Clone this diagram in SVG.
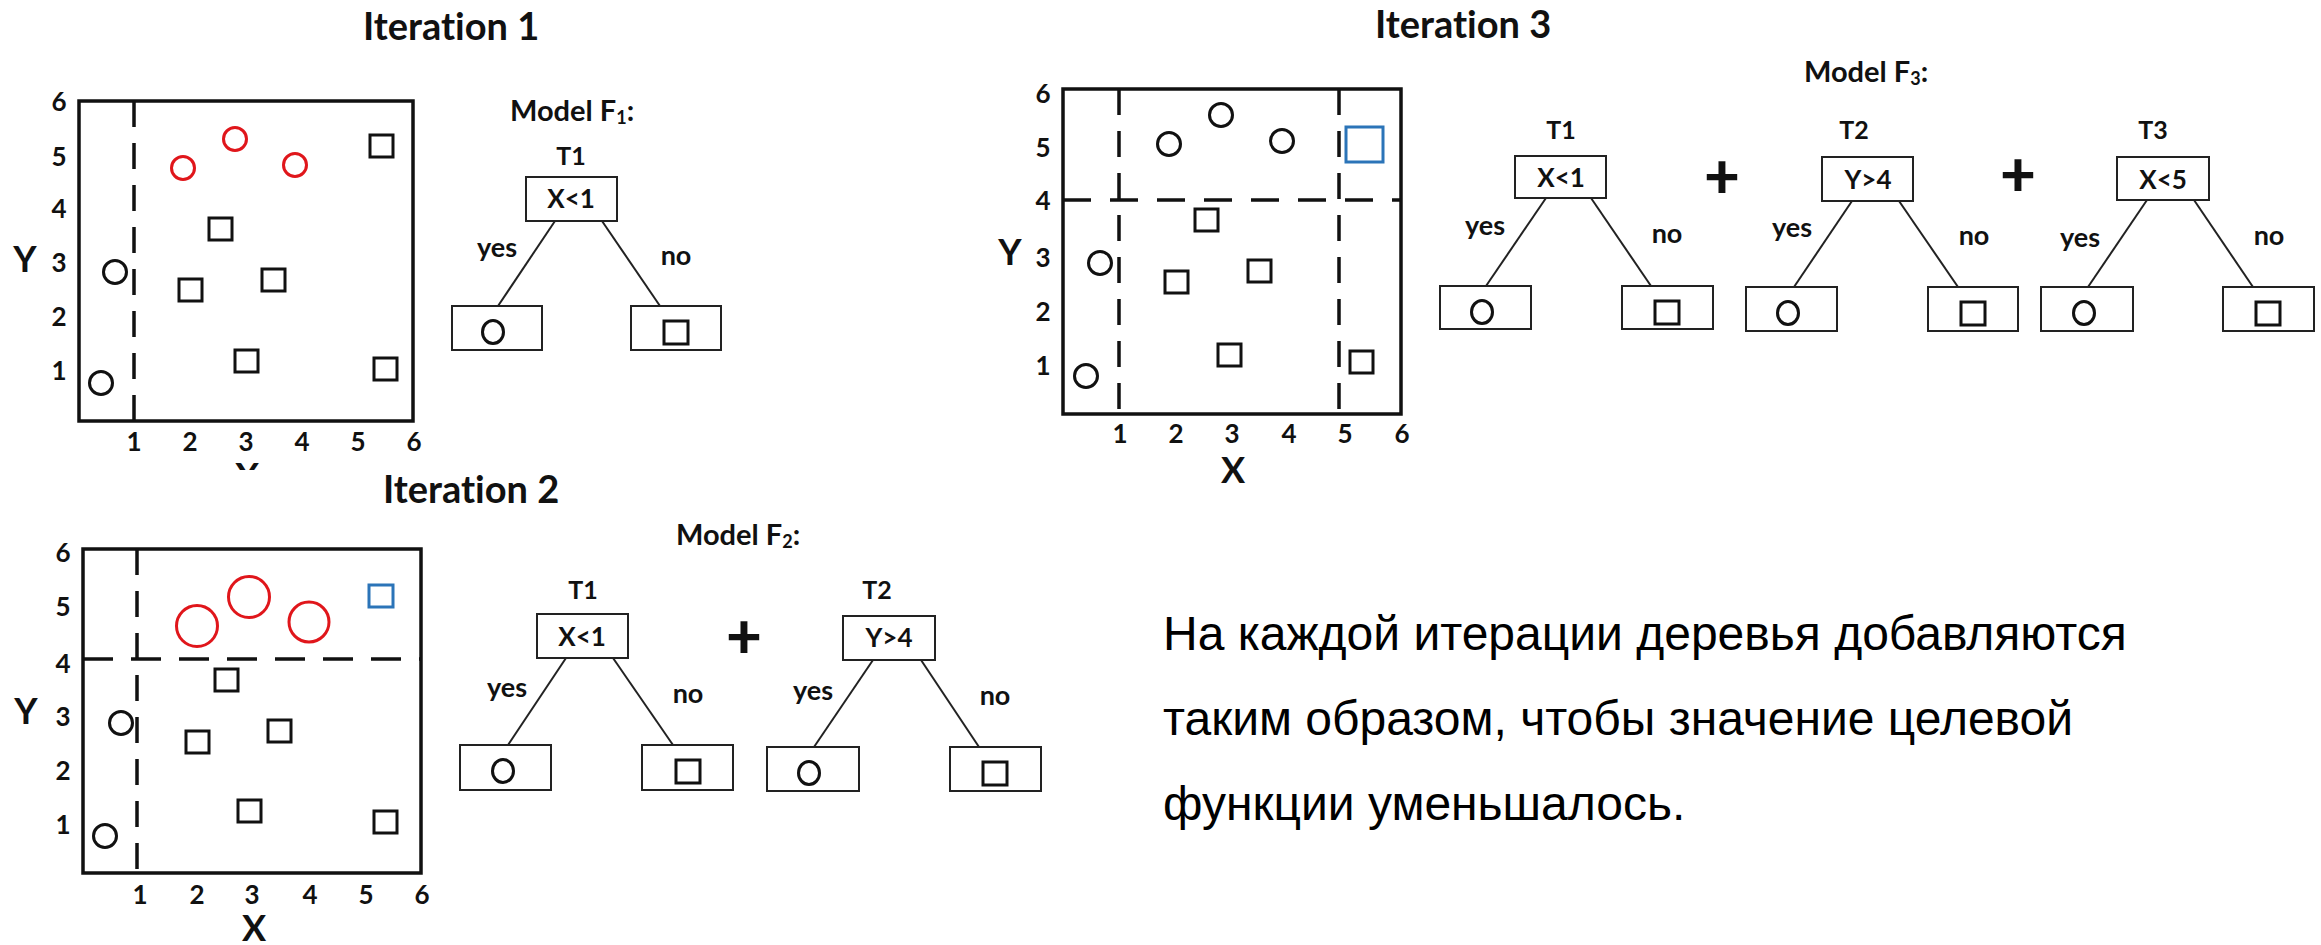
<svg xmlns="http://www.w3.org/2000/svg" width="2321" height="945" viewBox="0 0 2321 945">
  <style>
    text { font-variant-ligatures: none; }
    .title { font-family: Lato, "Liberation Sans", sans-serif; font-weight: bold; font-size: 38px; fill: #111; }
    .tick { font-family: Lato, "Liberation Sans", sans-serif; font-weight: bold; font-size: 26px; fill: #111; text-anchor: middle; }
    .axis { font-family: Lato, "Liberation Sans", sans-serif; font-weight: bold; font-size: 36px; fill: #111; text-anchor: middle; }
    .model { font-family: Lato, "Liberation Sans", sans-serif; font-weight: bold; font-size: 29px; fill: #111; }
    .tname { font-family: Lato, "Liberation Sans", sans-serif; font-weight: bold; font-size: 25px; fill: #111; text-anchor: middle; }
    .cond { font-family: Lato, "Liberation Sans", sans-serif; font-weight: bold; font-size: 26px; fill: #111; text-anchor: middle; }
    .branch { font-family: Lato, "Liberation Sans", sans-serif; font-weight: bold; font-size: 27px; fill: #111; text-anchor: middle; }
    .plus { font-family: Lato, "Liberation Sans", sans-serif; font-weight: 900; font-size: 62px; fill: #111; text-anchor: middle; }
    .note { font-family: "Liberation Sans", Arial, sans-serif; font-size: 48px; fill: #000; }
    .frame { fill: none; stroke: #111; stroke-width: 3.5; }
    .split { fill: none; stroke: #111; stroke-width: 3.5; stroke-dasharray: 26 16; }
    .pt { fill: none; stroke: #111; stroke-width: 3; }
    .red { fill: none; stroke: #e0161b; stroke-width: 3; }
    .blue { fill: none; stroke: #2b74b8; stroke-width: 3; }
    .box { fill: #fff; stroke: #222; stroke-width: 2; }
    .edge { stroke: #222; stroke-width: 2; fill: none; }
    .leaf { fill: none; stroke: #111; stroke-width: 3; }
  </style>
  <defs>
    <clipPath id="cutX"><rect x="200" y="440" width="100" height="30"/></clipPath>
  </defs>
  <rect width="2321" height="945" fill="#fff"/>

  <!-- Iteration 1: scatter plot -->
  <g id="plot1">
    <text class="title" x="363" y="40">Iteration 1</text>
    <rect class="frame" x="79" y="101" width="334" height="320"/>
    <line class="split" x1="134" y1="101" x2="134" y2="421"/>
    <g>
      <text class="tick" x="59" y="111">6</text>
      <text class="tick" x="59" y="166">5</text>
      <text class="tick" x="59" y="218">4</text>
      <text class="tick" x="59" y="272">3</text>
      <text class="tick" x="59" y="326">2</text>
      <text class="tick" x="59" y="380">1</text>
      <text class="tick" x="134" y="451">1</text>
      <text class="tick" x="190" y="451">2</text>
      <text class="tick" x="246" y="451">3</text>
      <text class="tick" x="302" y="451">4</text>
      <text class="tick" x="358" y="451">5</text>
      <text class="tick" x="414" y="451">6</text>
      <text class="axis" x="25" y="272">Y</text>
      <text class="axis" x="247" y="489" clip-path="url(#cutX)">X</text>
    </g>
    <circle class="red" cx="183" cy="168" r="11.5"/>
    <circle class="red" cx="235" cy="139" r="11.5"/>
    <circle class="red" cx="295" cy="165" r="11.5"/>
    <circle class="pt" cx="115" cy="272" r="11.5"/>
    <circle class="pt" cx="101" cy="383" r="11.5"/>
    <rect class="pt" x="370" y="135" width="23" height="22"/>
    <rect class="pt" x="209" y="218" width="23" height="22"/>
    <rect class="pt" x="179" y="279" width="23" height="22"/>
    <rect class="pt" x="262" y="269" width="23" height="22"/>
    <rect class="pt" x="235" y="350" width="23" height="22"/>
    <rect class="pt" x="374" y="358" width="23" height="22"/>
  </g>

  <!-- Iteration 2: scatter plot -->
  <g id="plot2">
    <text class="title" x="383" y="503">Iteration 2</text>
    <rect class="frame" x="83" y="549" width="338" height="324"/>
    <line class="split" x1="137" y1="549" x2="137" y2="873"/>
    <line class="split" x1="83" y1="659" x2="421" y2="659" style="stroke-dasharray: 30 18"/>
    <g>
      <text class="tick" x="63" y="562">6</text>
      <text class="tick" x="63" y="616">5</text>
      <text class="tick" x="63" y="673">4</text>
      <text class="tick" x="63" y="726">3</text>
      <text class="tick" x="63" y="780">2</text>
      <text class="tick" x="63" y="834">1</text>
      <text class="tick" x="140" y="904">1</text>
      <text class="tick" x="197" y="904">2</text>
      <text class="tick" x="252" y="904">3</text>
      <text class="tick" x="310" y="904">4</text>
      <text class="tick" x="366" y="904">5</text>
      <text class="tick" x="422" y="904">6</text>
      <text class="axis" x="26" y="724">Y</text>
      <text class="axis" x="254" y="941">X</text>
    </g>
    <circle class="red" cx="197" cy="626" r="20.5"/>
    <circle class="red" cx="249" cy="597" r="20.5"/>
    <circle class="red" cx="309" cy="622" r="20"/>
    <rect class="blue" x="369" y="585" width="24" height="22"/>
    <circle class="pt" cx="121" cy="723" r="11.5"/>
    <circle class="pt" cx="105" cy="836" r="11.5"/>
    <rect class="pt" x="215" y="669" width="23" height="22"/>
    <rect class="pt" x="186" y="731" width="23" height="22"/>
    <rect class="pt" x="268" y="720" width="23" height="22"/>
    <rect class="pt" x="238" y="800" width="23" height="22"/>
    <rect class="pt" x="374" y="811" width="23" height="22"/>
  </g>

  <!-- Iteration 3: scatter plot -->
  <g id="plot3">
    <text class="title" x="1375" y="38">Iteration 3</text>
    <rect class="frame" x="1063" y="89" width="338" height="325"/>
    <line class="split" x1="1119" y1="89" x2="1119" y2="414"/>
    <line class="split" x1="1339" y1="89" x2="1339" y2="414"/>
    <line class="split" x1="1063" y1="200" x2="1401" y2="200" style="stroke-dasharray: 28 19"/>
    <g>
      <text class="tick" x="1043" y="103">6</text>
      <text class="tick" x="1043" y="157">5</text>
      <text class="tick" x="1043" y="210">4</text>
      <text class="tick" x="1043" y="267">3</text>
      <text class="tick" x="1043" y="321">2</text>
      <text class="tick" x="1043" y="375">1</text>
      <text class="tick" x="1120" y="443">1</text>
      <text class="tick" x="1176" y="443">2</text>
      <text class="tick" x="1232" y="443">3</text>
      <text class="tick" x="1289" y="443">4</text>
      <text class="tick" x="1345" y="443">5</text>
      <text class="tick" x="1402" y="443">6</text>
      <text class="axis" x="1010" y="265">Y</text>
      <text class="axis" x="1233" y="483">X</text>
    </g>
    <circle class="pt" cx="1169" cy="144" r="11.5"/>
    <circle class="pt" cx="1221" cy="115" r="11.5"/>
    <circle class="pt" cx="1282" cy="141" r="11.5"/>
    <circle class="pt" cx="1100" cy="263" r="11.5"/>
    <circle class="pt" cx="1086" cy="376" r="11.5"/>
    <rect class="blue" x="1346" y="127" width="37" height="35"/>
    <rect class="pt" x="1195" y="209" width="23" height="22"/>
    <rect class="pt" x="1165" y="271" width="23" height="22"/>
    <rect class="pt" x="1248" y="260" width="23" height="22"/>
    <rect class="pt" x="1218" y="344" width="23" height="22"/>
    <rect class="pt" x="1350" y="351" width="23" height="22"/>
  </g>

  <!-- Model captions and plus signs -->
  <g id="labels">
    <text class="model" x="510" y="121">Model F<tspan font-size="18" dy="3">1</tspan><tspan dy="-3">:</tspan></text>
    <text class="model" x="676" y="545">Model F<tspan font-size="18" dy="3">2</tspan><tspan dy="-3">:</tspan></text>
    <text class="model" x="1804" y="82">Model F<tspan font-size="18" dy="3">3</tspan><tspan dy="-3">:</tspan></text>
    <text class="plus" x="744" y="658">+</text>
    <text class="plus" x="1722" y="198">+</text>
    <text class="plus" x="2018" y="196">+</text>
  </g>

  <!-- Tree edges -->
  <g id="connectors">
    <line class="edge" x1="555" y1="221" x2="498" y2="306"/>
    <line class="edge" x1="602" y1="221" x2="660" y2="306"/>
    <line class="edge" x1="566" y1="658" x2="508" y2="745"/>
    <line class="edge" x1="613" y1="658" x2="673" y2="745"/>
    <line class="edge" x1="873" y1="660" x2="814" y2="747"/>
    <line class="edge" x1="921" y1="660" x2="979" y2="747"/>
    <line class="edge" x1="1546" y1="198" x2="1486" y2="286"/>
    <line class="edge" x1="1591" y1="198" x2="1651" y2="286"/>
    <line class="edge" x1="1852" y1="201" x2="1794" y2="287"/>
    <line class="edge" x1="1899" y1="201" x2="1958" y2="287"/>
    <line class="edge" x1="2147" y1="200" x2="2088" y2="287"/>
    <line class="edge" x1="2194" y1="200" x2="2253" y2="287"/>
    <text class="branch" x="497" y="257">yes</text>
    <text class="branch" x="676" y="265">no</text>
    <text class="branch" x="507" y="697">yes</text>
    <text class="branch" x="688" y="703">no</text>
    <text class="branch" x="813" y="700">yes</text>
    <text class="branch" x="995" y="705">no</text>
    <text class="branch" x="1485" y="235">yes</text>
    <text class="branch" x="1667" y="243">no</text>
    <text class="branch" x="1792" y="237">yes</text>
    <text class="branch" x="1974" y="245">no</text>
    <text class="branch" x="2080" y="247">yes</text>
    <text class="branch" x="2269" y="245">no</text>
  </g>

  <!-- Model F1 -->
  <g id="f1-t1">
    <text class="tname" x="571" y="165">T1</text>
    <rect class="box" x="526" y="177" width="91" height="44"/>
    <text class="cond" x="571" y="208">X&lt;1</text>
  </g>
  <g id="f1-t1-yes">
    <rect class="box" x="452" y="306" width="90" height="44"/>
    <ellipse class="leaf" cx="493" cy="332" rx="10.5" ry="11.5"/>
  </g>
  <g id="f1-t1-no">
    <rect class="box" x="631" y="306" width="90" height="44"/>
    <rect class="leaf" x="664" y="321" width="24" height="23"/>
  </g>

  <!-- Model F2 -->
  <g id="f2-t1">
    <text class="tname" x="583" y="599">T1</text>
    <rect class="box" x="537" y="614" width="91" height="44"/>
    <text class="cond" x="582" y="646">X&lt;1</text>
  </g>
  <g id="f2-t1-yes">
    <rect class="box" x="460" y="745" width="91" height="45"/>
    <ellipse class="leaf" cx="503" cy="771" rx="10.5" ry="11.5"/>
  </g>
  <g id="f2-t1-no">
    <rect class="box" x="642" y="745" width="91" height="45"/>
    <rect class="leaf" x="676" y="760" width="24" height="23"/>
  </g>
  <g id="f2-t2">
    <text class="tname" x="877" y="599">T2</text>
    <rect class="box" x="843" y="616" width="92" height="44"/>
    <text class="cond" x="889" y="647">Y&gt;4</text>
  </g>
  <g id="f2-t2-yes">
    <rect class="box" x="767" y="747" width="92" height="44"/>
    <ellipse class="leaf" cx="809" cy="773" rx="10.5" ry="11.5"/>
  </g>
  <g id="f2-t2-no">
    <rect class="box" x="950" y="747" width="91" height="44"/>
    <rect class="leaf" x="983" y="762" width="24" height="23"/>
  </g>

  <!-- Model F3 -->
  <g id="f3-t1">
    <text class="tname" x="1561" y="139">T1</text>
    <rect class="box" x="1515" y="156" width="91" height="42"/>
    <text class="cond" x="1561" y="187">X&lt;1</text>
  </g>
  <g id="f3-t1-yes">
    <rect class="box" x="1440" y="286" width="91" height="43"/>
    <ellipse class="leaf" cx="1482" cy="312" rx="10.5" ry="11.5"/>
  </g>
  <g id="f3-t1-no">
    <rect class="box" x="1622" y="286" width="91" height="43"/>
    <rect class="leaf" x="1655" y="301" width="24" height="23"/>
  </g>
  <g id="f3-t2">
    <text class="tname" x="1854" y="139">T2</text>
    <rect class="box" x="1822" y="157" width="91" height="44"/>
    <text class="cond" x="1868" y="189">Y&gt;4</text>
  </g>
  <g id="f3-t2-yes">
    <rect class="box" x="1746" y="287" width="91" height="44"/>
    <ellipse class="leaf" cx="1788" cy="313" rx="10.5" ry="11.5"/>
  </g>
  <g id="f3-t2-no">
    <rect class="box" x="1928" y="287" width="90" height="44"/>
    <rect class="leaf" x="1961" y="302" width="24" height="23"/>
  </g>
  <g id="f3-t3">
    <text class="tname" x="2153" y="139">T3</text>
    <rect class="box" x="2117" y="157" width="92" height="43"/>
    <text class="cond" x="2163" y="189">X&lt;5</text>
  </g>
  <g id="f3-t3-yes">
    <rect class="box" x="2041" y="287" width="92" height="44"/>
    <ellipse class="leaf" cx="2084" cy="313" rx="10.5" ry="11.5"/>
  </g>
  <g id="f3-t3-no">
    <rect class="box" x="2223" y="287" width="91" height="44"/>
    <rect class="leaf" x="2256" y="302" width="24" height="23"/>
  </g>

  <!-- Explanation -->
  <g id="note">
    <text class="note" x="1163" y="650">На каждой итерации деревья добавляются</text>
    <text class="note" x="1163" y="735">таким образом, чтобы значение целевой</text>
    <text class="note" x="1163" y="820">функции уменьшалось.</text>
  </g>
</svg>
